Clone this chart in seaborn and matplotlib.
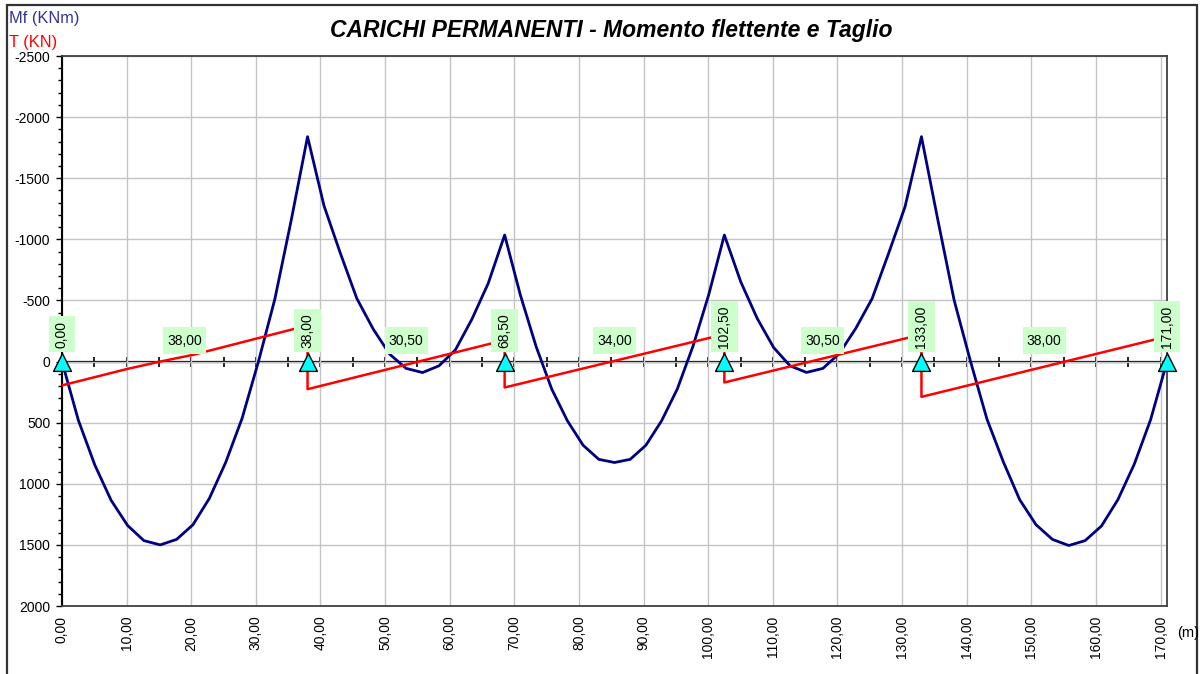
import numpy as np
import pandas as pd
import matplotlib
matplotlib.use("Agg")
import matplotlib.pyplot as plt
from matplotlib.path import Path
from matplotlib.patches import Rectangle
from matplotlib.ticker import MultipleLocator, FixedLocator, FuncFormatter
import seaborn as sns

# ---- Beam layout -------------------------------------------------------------
supports_x = [0.00, 38.00, 68.50, 102.50, 133.00, 171.00]
span_lengths = [38.00, 30.50, 34.00, 30.50, 38.00]
span_segments = [15, 12, 14, 12, 15]

# ---- Bending moment Mf (KNm) at the computation stations of each span --------
moment_span1 = [0, 480, 845, 1135, 1340, 1465, 1500, 1455, 1335, 1120, 825, 465, 0, -510, -1155, -1840]
moment_span2 = [-1840, -1275, -885, -516, -265, -60, 56, 90, 35, -95, -345, -640, -1035]
moment_span3 = [-1035, -545, -125, 225, 485, 685, 800, 826, 800, 685, 485, 225, -125, -545, -1035]
moment_span4 = [-1035, -652, -353, -115, 35, 89, 56, -66, -271, -516, -885, -1266, -1840]
moment_span5 = [-1840, -1160, -500, 0, 470, 820, 1130, 1335, 1455, 1505, 1465, 1345, 1130, 840, 475, 0]
moment_spans = [moment_span1, moment_span2, moment_span3, moment_span4, moment_span5]

# ---- Shear T (KN) ------------------------------------------------------------
shear_x = [0.00, 10.13, 15.20, 20.27, 38.00, 38.00, 68.50, 68.50, 102.50, 102.50, 133.00, 133.00, 171.00]
shear_v = [195, 60, 0, -55, -295, 226, -175, 212, -223, 171, -221, 289, -205]

# ---- Axis ticks --------------------------------------------------------------
x_ticks = list(range(0, 171, 10))
y_ticks = list(range(-2500, 2001, 500))


def comma(v):
    return f"{v:.2f}".replace(".", ",")


def label_box(pad_along, pad_across):
    """Rectangular label background with different padding along / across the text."""
    def style(x0, y0, width, height, mutation_size):
        px = pad_along * mutation_size
        py = pad_across * mutation_size
        xa, ya = x0 - px, y0 - py
        xb, yb = x0 + width + px, y0 + height + py
        return Path([(xa, ya), (xb, ya), (xb, yb), (xa, yb), (xa, ya)], closed=True)
    return style


# ---- Long tables for seaborn -------------------------------------------------
mx, mv = [], []
for start, length, nseg, vals in zip(supports_x[:-1], span_lengths, span_segments, moment_spans):
    stations = np.linspace(start, start + length, nseg + 1)
    if mx:
        stations, vals = stations[1:], vals[1:]
    mx.extend(stations)
    mv.extend(vals)
moment_df = pd.DataFrame({"x": mx, "Mf": mv})
shear_df = pd.DataFrame({"x": shear_x, "T": shear_v})
supports_df = pd.DataFrame({"x": supports_x, "y": [0.0] * len(supports_x)})

sns.set_theme(style="white")
plt.rcParams["font.family"] = ["Liberation Sans", "DejaVu Sans"]
plt.rcParams["axes.unicode_minus"] = False

W, H = 1201, 674
fig = plt.figure(figsize=(W / 100, H / 100), dpi=100)
fig.patch.set_facecolor("white")
ax = fig.add_axes([62 / W, 1 - 606 / H, (1167 - 62) / W, (606 - 56) / H])
ax.set_facecolor("white")

ax.set_xlim(0, 171)
ax.set_ylim(2000, -2500)

# grid
ax.xaxis.set_major_locator(FixedLocator(x_ticks))
ax.yaxis.set_major_locator(FixedLocator(y_ticks))
ax.yaxis.set_minor_locator(MultipleLocator(100))
ax.grid(True, which="major", color="#C4C4C4", lw=1.0)
ax.set_axisbelow(True)

# zero reference axis with 5 m ticks
zero_loc = (0 - 2000) / (-2500 - 2000)
sec = ax.secondary_xaxis(zero_loc)
sec.set_xticks(np.arange(0, 171, 5))
sec.tick_params(axis="x", direction="inout", length=7, width=1.2, color="black",
                bottom=True, labelbottom=False, top=False, labeltop=False)
for s in sec.spines.values():
    s.set_visible(False)
sec.spines["bottom"].set_visible(True)
sec.spines["bottom"].set_color("black")
sec.spines["bottom"].set_linewidth(1.6)

# bending moment and shear
sns.lineplot(data=moment_df, x="x", y="Mf", sort=False, estimator=None,
             color="#000080", lw=2.0, ax=ax, zorder=3)
sns.lineplot(data=shear_df, x="x", y="T", sort=False, estimator=None,
             color="#FF0000", lw=1.8, ax=ax, zorder=4)

# supports
sns.scatterplot(data=supports_df, x="x", y="y", marker="^", s=165, color="#00FFFF",
                edgecolor="black", linewidth=1.0, ax=ax, zorder=6, clip_on=False)

box = dict(boxstyle=label_box(0.3, 0.45), fc="#CCFFCC", ec="none")

# support abscissae
for xs in supports_x:
    ax.annotate(comma(xs), xy=(xs, 0), xytext=(0, 14), textcoords="offset pixels",
                rotation=90, ha="center", va="bottom", fontsize=10, color="black",
                bbox=box, zorder=7, annotation_clip=False)

# span lengths
for start, length in zip(supports_x[:-1], span_lengths):
    ax.annotate(comma(length), xy=(start + length / 2, 0), xytext=(0, 21),
                textcoords="offset pixels", ha="center", va="center", fontsize=10,
                color="black", bbox=box, zorder=7)

# axes styling
ax.set_xlabel("")
ax.set_ylabel("")
ax.xaxis.set_major_formatter(FuncFormatter(lambda v, p: comma(v)))
ax.yaxis.set_major_formatter(FuncFormatter(lambda v, p: f"{int(round(v))}"))
ax.tick_params(axis="x", bottom=True, length=0, pad=7, labelsize=10, labelrotation=90,
               labelcolor="black")
ax.tick_params(axis="y", which="major", left=True, length=4, width=1, color="black",
               pad=4.5, labelsize=10, labelcolor="black")
ax.tick_params(axis="y", which="minor", left=True, length=3, width=1, color="black")
for name, s in ax.spines.items():
    s.set_visible(True)
    s.set_color("#404040")
    s.set_linewidth(1.3)
ax.spines["left"].set_color("black")
ax.spines["left"].set_linewidth(1.5)

# titles and unit labels
fig.text(611 / W, 1 - 31 / H, "CARICHI PERMANENTI - Momento flettente e Taglio",
         ha="center", va="center", fontsize=16.5, fontweight="bold", fontstyle="italic",
         color="black")
fig.text(9 / W, 1 - 19 / H, "Mf (KNm)", ha="left", va="center", fontsize=11.8, color="#333399")
fig.text(9 / W, 1 - 42 / H, "T (KN)", ha="left", va="center", fontsize=11.8, color="#FF0000")
fig.text(1177 / W, 1 - 633 / H, "(m)", ha="left", va="center", fontsize=10.5, color="black")

# outer frame
fig.add_artist(Rectangle((7 / W, -0.05), (1197 - 7) / W, 1.05 - 5 / H,
                         transform=fig.transFigure, fill=False, ec="#333333", lw=1.6))

fig.savefig("out.png", dpi=100, facecolor="white")
